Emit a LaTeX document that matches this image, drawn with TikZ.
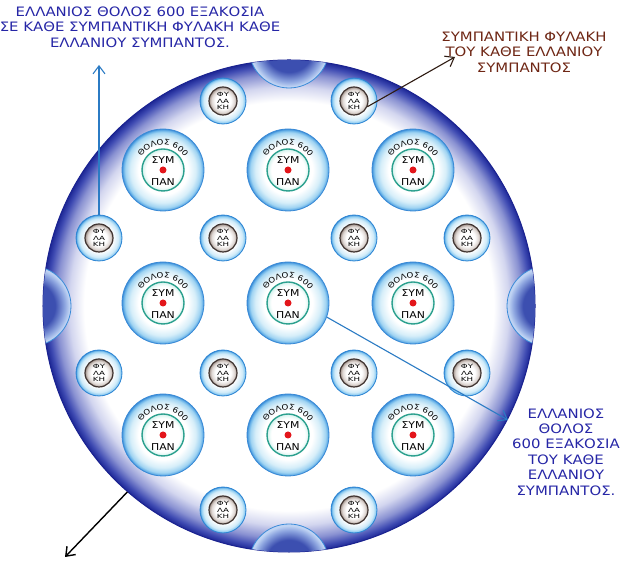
\documentclass[tikz,border=0pt]{standalone}
\usepackage{fontspec}
\setmainfont{DejaVu Sans}[FakeStretch=1.15]
\newfontfamily\guardfont{DejaVu Sans}[FakeStretch=1.5]
\usetikzlibrary{arrows.meta, decorations.text}

\definecolor{domeA}{HTML}{D3D6EF}
\definecolor{domeB}{HTML}{8A92D2}
\definecolor{domeC}{HTML}{3E4AB2}
\definecolor{domeD}{HTML}{1E2896}
\definecolor{domeedge}{HTML}{1A2290}
\definecolor{bumpA}{HTML}{3C4FB0}
\definecolor{bumpB}{HTML}{8EA6E0}
\definecolor{bumpC}{HTML}{BFD3F3}
\definecolor{bumpline}{HTML}{3B8BD8}
\definecolor{tholosA}{HTML}{D6EEF9}
\definecolor{tholosB}{HTML}{9FD3F2}
\definecolor{tholosC}{HTML}{5AA9E5}
\definecolor{tholosline}{HTML}{3A8AD6}
\definecolor{coreline}{HTML}{2BA08E}
\definecolor{coreA}{HTML}{D2F1EC}
\definecolor{guardA}{HTML}{D0EBF9}
\definecolor{guardB}{HTML}{86C8F0}
\definecolor{guardline}{HTML}{2E86D4}
\definecolor{ringA}{HTML}{DCD4D0}
\definecolor{ringB}{HTML}{A99C95}
\definecolor{ringline}{HTML}{3E3330}
\definecolor{dotred}{HTML}{E3161B}
\definecolor{bluearrow}{HTML}{2B7BC4}
\definecolor{brownarrow}{HTML}{2E1B12}
\definecolor{textblue}{HTML}{2626A6}
\definecolor{textbrown}{HTML}{6E2614}

\pgfdeclareradialshading{domeshade}{\pgfpointorigin}{color(0bp)=(white); color(20.8bp)=(white); color(22.3bp)=(domeA); color(23.6bp)=(domeB); color(24.5bp)=(domeC); color(25bp)=(domeD); color(50bp)=(domeD)}
\pgfdeclareradialshading{bumpshade}{\pgfpointorigin}{color(0bp)=(bumpA); color(15bp)=(bumpA); color(21bp)=(bumpB); color(24bp)=(bumpC); color(25bp)=(bumpC); color(50bp)=(bumpC)}
\pgfdeclareradialshading{tholosglow}{\pgfpointorigin}{color(0bp)=(white); color(15bp)=(white); color(20bp)=(tholosA); color(23bp)=(tholosB); color(24.5bp)=(tholosC); color(25bp)=(tholosline); color(50bp)=(tholosline)}
\pgfdeclareradialshading{coreglow}{\pgfpointorigin}{color(0bp)=(white); color(20bp)=(white); color(25bp)=(coreA); color(50bp)=(coreA)}
\pgfdeclareradialshading{guardglow}{\pgfpointorigin}{color(0bp)=(white); color(15bp)=(white); color(21bp)=(guardA); color(24bp)=(guardB); color(25bp)=(guardline); color(50bp)=(guardline)}
\pgfdeclareradialshading{ringglow}{\pgfpointorigin}{color(0bp)=(white); color(14bp)=(white); color(21bp)=(ringA); color(24bp)=(ringB); color(25bp)=(ringB); color(50bp)=(ringB)}

\newcommand{\tholostext}{\fontsize{7.6}{8}\selectfont}

\begin{document}
\begin{tikzpicture}[x=1bp, y=1bp,
    dome/.style={circle, draw=domeedge, line width=1bp, shading=domeshade, minimum size=492bp, inner sep=0pt},
    bump/.style={shading=bumpshade, draw=bumpline, line width=0.8bp},
    tholos/.style={circle, draw=tholosline, line width=0.8bp, shading=tholosglow, minimum size=82bp, inner sep=0pt},
    core/.style={circle, draw=coreline, line width=1.4bp, shading=coreglow, minimum size=42bp, inner sep=0pt},
    symtext/.style={inner sep=0pt, font=\fontsize{9.5}{10}\selectfont},
    guard/.style={circle, draw=guardline, line width=0.8bp, shading=guardglow, minimum size=46bp, inner sep=0pt},
    guardcore/.style={circle, draw=ringline, line width=1.2bp, shading=ringglow, minimum size=28bp, inner sep=0pt, align=center, font=\guardfont\fontsize{5.8}{6.8}\selectfont},
    label/.style={align=center, inner sep=0pt, font=\fontsize{13}{15.5}\selectfont},
    arrow/.style={-{Straight Barb[length=8bp, width=12bp]}, line width=1.1bp}
  ]
    \useasboundingbox (0,0) rectangle (625,562);

    % Universe
    \node[dome] (dome) at (289,256) {};
    \begin{scope}
      \clip (289,256) circle (246);
      \foreach \b/\x/\y in {top/289/514, bottom/289/-2, left/31/256, right/547/256}
        \path[bump] (\x,\y) circle (40);
    \end{scope}

    % Tholoi
    \foreach \c/\x/\y in {1/163/392, 2/288/392, 3/413/392,
                          4/163/259, 5/288/259, 6/413/259,
                          7/163/127, 8/288/127, 9/413/127} {
      \node[tholos] (t\c) at (\x,\y) {};
      \node[core] (c\c) at (t\c) {};
      \fill[dotred] (c\c) circle (3.5);
      \node[symtext] at ([yshift=10bp]c\c.center) {ΣΥΜ};
      \node[symtext] at ([yshift=-12bp]c\c.center) {ΠΑΝ};
      \path[decorate, decoration={text along path, text align=center,
          text={|\tholostext|ΘΟΛΟΣ 600}}]
        ([shift={(162:25)}]t\c.center) arc[start angle=162, end angle=18, radius=25];
    }

    % Guards
    \foreach \g/\x/\y in {1/223/461, 2/354/461,
                          3/99/324, 4/223/324, 5/354/324, 6/467/324,
                          7/99/189, 8/223/189, 9/354/189, 10/467/189,
                          11/223/52, 12/354/52} {
      \node[guard] (g\g) at (\x,\y) {};
      \node[guardcore] (gc\g) at (g\g) {ΦΥ\\ΛΑ\\ΚΗ};
    }

    % Labels
    \node[label, text=textblue] (lblTholos) at (140,535)
      {ΕΛΛΑΝΙΟΣ ΘΟΛΟΣ 600 ΕΞΑΚΟΣΙΑ\\ΣΕ ΚΑΘΕ ΣΥΜΠΑΝΤΙΚΗ ΦΥΛΑΚΗ ΚΑΘΕ\\ΕΛΛΑΝΙΟΥ ΣΥΜΠΑΝΤΟΣ.};
    \node[label, text=textbrown] (lblGuard) at (524,510)
      {ΣΥΜΠΑΝΤΙΚΗ ΦΥΛΑΚΗ\\ΤΟΥ ΚΑΘΕ ΕΛΛΑΝΙΟΥ\\ΣΥΜΠΑΝΤΟΣ};
    \node[label, text=textblue] (lblEach) at (566,110)
      {ΕΛΛΑΝΙΟΣ\\ΘΟΛΟΣ\\600 ΕΞΑΚΟΣΙΑ\\ΤΟΥ ΚΑΘΕ\\ΕΛΛΑΝΙΟΥ\\ΣΥΜΠΑΝΤΟΣ.};

    % Arrows
    \coordinate (tipTholos) at (99,497);
    \coordinate (tipGuard) at (455,505);
    \coordinate (tipEach) at (508,142);
    \coordinate (tipOut) at (65,5);
    \draw[arrow, bluearrow] (g3.north) -- (tipTholos);
    \draw[arrow, brownarrow] (gc2.-23) -- (tipGuard);
    \draw[arrow, bluearrow] (t5.-20) -- (tipEach);
    \draw[arrow, black, line width=1.4bp] (dome.229) -- (tipOut);
\end{tikzpicture}
\end{document}
